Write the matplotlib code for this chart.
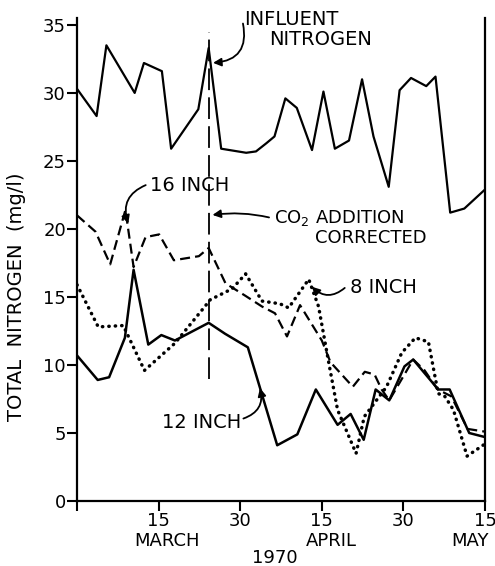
import matplotlib
matplotlib.use("Agg")
import matplotlib.pyplot as plt

# x positions on a day scale (ticks every 15 days: Mar 15, Mar 30, Apr 15, Apr 30, May 15)
influent_x = [0, 3.6, 5.4, 10.6, 12.3, 15.6, 17.3, 22.3, 24.2, 26.5, 31.1, 32.9, 34.8, 36.3,
              38.3, 40.4, 43.2, 45.3, 47.4, 50.0, 52.4, 54.5, 57.3, 59.3, 61.4, 64.2, 65.9,
              68.6, 71.2, 75]
influent_y = [30.3, 28.3, 33.5, 30.0, 32.2, 31.6, 25.9, 28.8, 33.3, 25.9, 25.6, 25.7, 26.3, 26.8,
              29.6, 28.9, 25.8, 30.1, 25.9, 26.5, 31.0, 26.8, 23.1, 30.2, 31.1, 30.5, 31.2,
              21.2, 21.5, 22.9]

in16_x = [0, 3.4, 6.1, 8.9, 10.4, 12.6, 15.1, 17.8, 22.4, 24.2, 27.3, 30.9, 34.0, 36.4, 38.6,
          41.0, 45.0, 46.6, 50.7, 52.9, 54.7, 56.0, 57.4, 61.8, 63.9, 66.3, 68.8, 71.8, 75]
in16_y = [21.0, 19.8, 17.4, 21.4, 17.2, 19.4, 19.6, 17.7, 18.0, 18.6, 16.0, 15.1, 14.3, 13.8, 12.1,
          14.4, 11.8, 10.2, 8.4, 9.5, 9.3, 8.2, 7.4, 10.4, 9.6, 8.2, 7.7, 5.3, 5.1]

in8_x = [0, 3.9, 8.5, 12.4, 18.0, 23.3, 24.5, 28.5, 31.0, 34.0, 37.3, 38.9, 42.6, 44.4, 46.4,
         47.9, 51.3, 52.8, 56.9, 59.7, 62.2, 64.6, 66.4, 67.6, 69.2, 71.7, 75]
in8_y = [15.9, 12.8, 12.9, 9.6, 11.6, 14.2, 14.8, 15.6, 16.7, 14.7, 14.5, 14.2, 16.3, 14.3, 9.9,
         6.7, 3.5, 6.2, 8.4, 10.9, 12.0, 11.7, 7.9, 7.7, 6.7, 3.3, 4.2]

in12_x = [0, 3.8, 5.9, 8.8, 10.4, 13.1, 15.5, 18.0, 24.2, 27.2, 31.4, 36.8, 40.5, 43.9, 47.9,
          50.3, 52.7, 54.9, 57.4, 60.2, 61.8, 66.4, 68.5, 72.1, 75]
in12_y = [10.7, 8.9, 9.1, 12.0, 17.0, 11.5, 12.2, 11.8, 13.1, 12.3, 11.3, 4.1, 4.9, 8.2, 5.6,
          6.4, 4.5, 8.2, 7.4, 9.9, 10.4, 8.2, 8.2, 5.0, 4.7]

co2_day = 24.3
xtick_pos = [0, 15, 30, 45, 60, 75]
xtick_lab = ['', '15', '30', '15', '30', '15']
months = [('MARCH', 16.5), ('APRIL', 46.8), ('MAY', 72.3)]

plt.rcParams['font.family'] = 'DejaVu Sans'
fig = plt.figure(figsize=(4.95, 5.66), dpi=100)
ax = fig.add_axes([0.1556, 0.1148, 0.8242, 0.8532])

ax.plot(influent_x, influent_y, c='k', lw=1.6)
ax.plot(in16_x, in16_y, c='k', lw=1.6, ls=(0, (4.5, 2.3)))
ax.plot(in8_x, in8_y, c='k', lw=2.5, ls=(0, (0.1, 1.75)), dash_capstyle='round')
ax.plot(in12_x, in12_y, c='k', lw=1.8)
ax.plot([co2_day, co2_day], [9.0, 34.5], c='k', lw=1.3, ls=(0, (12, 4)))

ax.set_xlim(0, 75)
ax.set_ylim(0, 35.5)
ax.set_xticks(xtick_pos)
ax.set_xticklabels(xtick_lab)
ax.set_yticks(range(0, 36, 5))
ax.tick_params(axis='x', length=7, width=1.5, labelsize=13, pad=1)
ax.tick_params(axis='y', length=7, width=1.5, labelsize=13, pad=1)
ax.spines['top'].set_visible(False)
for s in ['left', 'bottom', 'right']:
    ax.spines[s].set_linewidth(1.6)

tr = ax.get_xaxis_transform()
for name, xpos in months:
    ax.text(xpos, -0.083, name, transform=tr, ha='center', va='center', fontsize=13)
ax.text(36.3, -0.118, '1970', transform=tr, ha='center', va='center', fontsize=13)
fig.text(0.034, 0.475, 'TOTAL  NITROGEN  (mg/l)', rotation=90, ha='center', va='center',
         fontsize=14)

# annotations
arrow = dict(arrowstyle='-|>', color='k', lw=1.3, mutation_scale=12)
ax.text(30.8, 35.4, 'INFLUENT', ha='left', va='center', fontsize=14)
ax.text(35.3, 33.9, 'NITROGEN', ha='left', va='center', fontsize=14)
ax.annotate('', xy=(24.5, 32.2), xytext=(30.4, 35.3),
            arrowprops=dict(arrow, connectionstyle='arc3,rad=-0.6'))

ax.text(13.5, 23.2, '16 INCH', ha='left', va='center', fontsize=14)
ax.annotate('', xy=(9.6, 20.2), xytext=(13.1, 23.3),
            arrowprops=dict(arrow, connectionstyle='arc3,rad=0.5'))

ax.text(36.2, 20.8, 'CO$_2$ ADDITION', ha='left', va='center', fontsize=13)
ax.text(43.7, 19.35, 'CORRECTED', ha='left', va='center', fontsize=13)
ax.annotate('', xy=(24.4, 21.0), xytext=(35.8, 20.8),
            arrowprops=dict(arrow, connectionstyle='arc3,rad=0.1'))

ax.text(50.1, 15.7, '8 INCH', ha='left', va='center', fontsize=14)
ax.annotate('', xy=(42.8, 15.9), xytext=(49.6, 15.8),
            arrowprops=dict(arrow, connectionstyle='arc3,rad=-0.5'))

ax.text(15.7, 5.8, '12 INCH', ha='left', va='center', fontsize=14)
ax.annotate('', xy=(33.5, 8.5), xytext=(30.1, 6.0),
            arrowprops=dict(arrow, connectionstyle='arc3,rad=0.5'))

fig.savefig('out.png', dpi=100)
